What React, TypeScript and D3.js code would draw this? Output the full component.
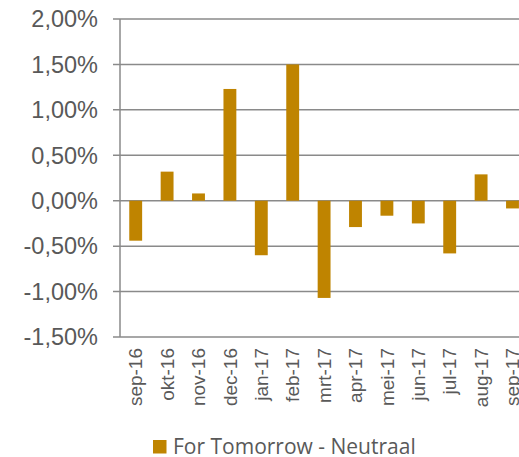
import { useRef, useEffect } from 'react'
import * as d3 from 'd3'

const months = ['sep-16', 'okt-16', 'nov-16', 'dec-16', 'jan-17', 'feb-17', 'mrt-17', 'apr-17', 'mei-17', 'jun-17', 'jul-17', 'aug-17', 'sep-17']
const returns = [-0.44, 0.32, 0.08, 1.23, -0.6, 1.5, -1.07, -0.29, -0.165, -0.25, -0.58, 0.29, -0.085]
const yTicks = [-1.5, -1.0, -0.5, 0, 0.5, 1.0, 1.5, 2.0]
const seriesName = 'For Tomorrow - Neutraal'

const width = 519
const height = 457
const barColor = '#BF8400'
const gridColor = '#8a8a8a'
const textColor = '#595959'

export default function App() {
  const svgRef = useRef<SVGSVGElement>(null)

  useEffect(() => {
    if (!svgRef.current) return
    const svg = d3.select(svgRef.current)
    svg.selectAll('*').remove()

    const margin = { top: 19, left: 120, bottom: 337 }
    const bandStep = 31.4

    const xScale = d3.scaleBand()
      .domain(months)
      .range([margin.left, margin.left + bandStep * months.length])
      .paddingInner(0.59)
      .paddingOuter(0.295)

    const yScale = d3.scaleLinear().domain([-1.5, 2.0]).range([margin.bottom, margin.top])

    const fmt = (v: number) => v.toFixed(2).replace('.', ',') + '%'

    // gridlines
    svg.append('g')
      .selectAll('line')
      .data(yTicks)
      .join('line')
      .attr('x1', margin.left - 7).attr('x2', width)
      .attr('y1', (d) => yScale(d)).attr('y2', (d) => yScale(d))
      .attr('stroke', gridColor)
      .attr('stroke-width', 1.5)

    // y axis line
    svg.append('line')
      .attr('x1', margin.left).attr('x2', margin.left)
      .attr('y1', yScale(2.0)).attr('y2', yScale(-1.5))
      .attr('stroke', gridColor)
      .attr('stroke-width', 1.5)

    // y labels
    svg.append('g')
      .selectAll('text')
      .data(yTicks)
      .join('text')
      .attr('x', 98)
      .attr('y', (d) => yScale(d))
      .attr('dy', '0.35em')
      .attr('text-anchor', 'end')
      .attr('fill', textColor)
      .attr('font-family', 'Liberation Sans, Arial, sans-serif')
      .attr('font-size', '23.5px')
      .text((d) => fmt(d))

    // bars
    svg.append('g')
      .selectAll('rect')
      .data(returns)
      .join('rect')
      .attr('x', (_, i) => xScale(months[i]) ?? 0)
      .attr('width', xScale.bandwidth())
      .attr('y', (d) => yScale(Math.max(0, d)))
      .attr('height', (d) => Math.abs(yScale(d) - yScale(0)))
      .attr('fill', barColor)

    // x labels
    svg.append('g')
      .selectAll('text')
      .data(months)
      .join('text')
      .attr('transform', (d) => `translate(${(xScale(d) ?? 0) + xScale.bandwidth() / 2},${margin.bottom + 11}) rotate(-90)`)
      .attr('dy', '0.35em')
      .attr('text-anchor', 'end')
      .attr('fill', textColor)
      .attr('font-family', 'Liberation Sans, Arial, sans-serif')
      .attr('font-size', '19px')
      .text((d) => d)

    // legend
    const legend = svg.append('g').attr('transform', 'translate(153,440)')
    legend.append('rect').attr('width', 13.5).attr('height', 13.5).attr('fill', barColor)
    legend.append('text')
      .attr('x', 20).attr('y', 7)
      .attr('dy', '0.35em')
      .attr('fill', textColor)
      .attr('font-family', 'Open Sans, sans-serif')
      .attr('font-size', '21px')
      .text(seriesName)
  }, [])

  return (
    <svg
      ref={svgRef}
      width={width}
      height={height}
      style={{ position: 'absolute', left: 0, top: 0, background: '#fff' }}
    />
  )
}
